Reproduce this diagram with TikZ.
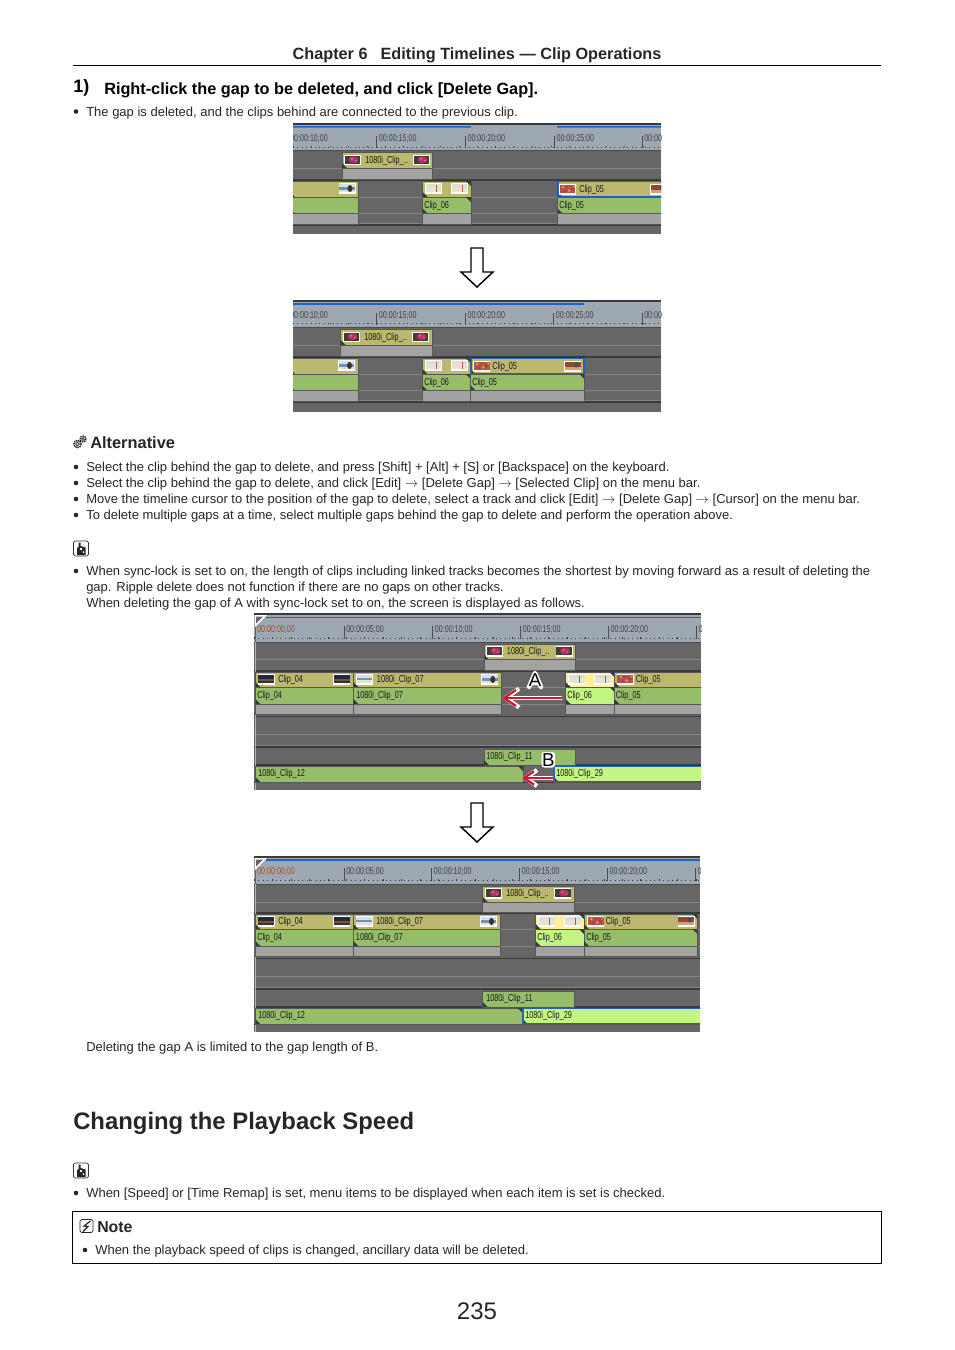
\documentclass[tikz,border=0pt]{standalone}
\usepackage{fontspec}
\setmainfont{Liberation Sans}
\newfontfamily\tlfont[FakeStretch=0.72]{Liberation Sans}
\usetikzlibrary{arrows.meta}
\definecolor{tldark}{HTML}{666666}
\definecolor{tlband}{HTML}{3A3A3A}
\definecolor{tlruler}{HTML}{9DA8B2}
\definecolor{tlline}{HTML}{858585}
\definecolor{tlgrey}{HTML}{A3A3A3}
\definecolor{tlyellow}{HTML}{BDB870}
\definecolor{tlgreen}{HTML}{96BE6A}
\definecolor{tllime}{HTML}{C4F583}
\definecolor{tlpale}{HTML}{FFF099}
\definecolor{tlblue}{HTML}{1F63C0}
\definecolor{tlred}{HTML}{D01830}
\definecolor{tltime}{HTML}{B5471E}
\definecolor{thmoss}{HTML}{3B4034}
\definecolor{thpink}{HTML}{B8305C}
\definecolor{thsky}{HTML}{D5DFE6}
\definecolor{thwater}{HTML}{6F93B4}
\definecolor{thsand}{HTML}{E8E2D0}
\definecolor{thrust}{HTML}{B5553F}
\definecolor{thspot}{HTML}{D8A070}
\definecolor{thdeep}{HTML}{8C4A32}
\definecolor{thnight}{HTML}{1F2A3A}
\definecolor{thglow}{HTML}{7A5232}

% one strip of a clip, with its dark corner
\newcommand{\strip}[5]{%
  \filldraw[#1,draw=tldark!85!black,line width=.4pt] (#2,#4) rectangle (#3,#5);
  \fill[tlband] (#2,#5) -- ++(0,-5) -- ++(5,5) -- cycle;}
\newcommand{\notch}[2]{\fill[tlband] (#1,#2) -- ++(-5,0) -- ++(5,5) -- cycle;}
\newcommand{\greybar}[4]{\filldraw[tlgrey,draw=tldark!85!black,line width=.4pt] (#1,#3) rectangle (#2,#4);}
% x0, x1, top, bottom of ruler, bottom
\newcommand{\tlbase}[5]{%
  \clip (#1,#3) rectangle (#2,#5);
  \fill[tldark] (#1,#3) rectangle (#2,#5);
  \fill[tlruler] (#1,#3+2) rectangle (#2,#4);
  \fill[tlband] (#1,#3) rectangle (#2,#3+1.6);
  \draw[tlband,line width=.6pt,dash pattern=on .7pt off 2.6pt] (#1,#4-3.5) -- (#2,#4-3.5);
  \draw[tlband,line width=.9pt,dash pattern=on .8pt off 13pt] (#1,#4-4) -- (#2,#4-4);
  \draw[tlband!60!tldark,line width=.7pt] (#1,#4) -- (#2,#4);}
\newcommand{\thframe}[1]{\fill[white] (0,0) rectangle (17,10.5); \fill[#1] (0.7,.8) rectangle (16.3,9);}
\newcommand{\thflower}[2]{\begin{scope}[shift={(#1,#2)}]\thframe{thmoss}
  \fill[thpink] (9.5,5) ellipse (5 and 3.5); \fill[thpink!70!white] (8,4) circle (1.3) (12,6) circle (1); \end{scope}}
\newcommand{\thsea}[2]{\begin{scope}[shift={(#1,#2)}]\thframe{thsky}
  \fill[thwater] (.7,3.5) rectangle (16.3,6); \fill[thsand] (.7,6) rectangle (16.3,9); \end{scope}}
\newcommand{\thwoman}[2]{\begin{scope}[shift={(#1,#2)}]\thframe{thsky}
  \fill[thwater] (.7,4) rectangle (16.3,7); \fill[thsand] (.7,7) rectangle (16.3,9);
  \fill[black!80] (11.5,5.5) ellipse (2.5 and 3.5); \end{scope}}
\newcommand{\thbeach}[2]{\begin{scope}[shift={(#1,#2)}]\thframe{thsand}
  \fill[thsky] (.7,.8) rectangle (16.3,3.5); \fill[thrust] (11,2) rectangle (12,8.5); \end{scope}}
\newcommand{\thflame}[2]{\begin{scope}[shift={(#1,#2)}]\thframe{thrust}
  \fill[thspot] (4,3) circle (1.4) (10,6.5) circle (1.4) (15,2.5) circle (1);
  \fill[thpink] (13,5) circle (1.5) (6,7) circle (1.3) (8,2.5) circle (1); \end{scope}}
\newcommand{\thbrown}[2]{\begin{scope}[shift={(#1,#2)}]\thframe{thdeep}
  \fill[thspot] (.7,5.5) rectangle (16.3,9); \fill[black!70] (12,4) ellipse (2 and 2.5); \end{scope}}
\newcommand{\thdusk}[2]{\begin{scope}[shift={(#1,#2)}]\thframe{thnight}
  \fill[thglow] (.7,5) rectangle (16.3,6.8); \fill[black!80] (.7,6.8) rectangle (16.3,9); \end{scope}}
% hollow arrow between the two timelines of a pair
\newcommand{\bigdown}[2]{\draw[black,line width=1.1pt,line join=miter,fill=white]
  (#1-6,#2) -- (#1+6,#2) -- (#1+6,#2+24) -- (#1+16,#2+24) -- (#1,#2+39) -- (#1-16,#2+24) -- (#1-6,#2+24) -- cycle;}
\newcommand{\handicon}[2]{\begin{scope}[shift={(#1,#2)}]
  \draw[black!80,line width=.6pt,rounded corners=1.2pt] (0,0) rectangle (15,15);
  \fill[black!85] (3.5,14) -- (3.5,7) -- (5,6) -- (5,1.5) -- (7,1.5) -- (7,5) -- (12,6.5) -- (12,14) -- cycle;
  \fill[white] (7.5,8) circle (1.4) (10,11) circle (1);\end{scope}}

\begin{document}
\begin{tikzpicture}[x=.75pt,y=-.75pt,
  bodytext/.style={anchor=base west,inner sep=0pt,font=\fontsize{9.75}{11}\selectfont,text=black!85},
  headtext/.style={anchor=base west,inner sep=0pt,font=\fontsize{12.2}{14}\selectfont\bfseries},
  tltext/.style={anchor=west,inner sep=0pt,font=\tlfont\fontsize{7.6}{8}\selectfont,text=black!90},
  rulertext/.style={anchor=west,inner sep=0pt,font=\tlfont\fontsize{7.4}{8}\selectfont,text=black!75},
  rowline/.style={tlline,line width=.6pt},
  darkline/.style={tlband,line width=.9pt},
  bigtick/.style={black!70,line width=.5pt},
  bulletdot/.style={black!85},
  redshaft/.style={tlred,line width=.9pt,-{Straight Barb[length=9pt,width=12pt,line width=1.7pt]}},
  whiteshaft/.style={white,line width=3pt,-{Straight Barb[length=10pt,width=14pt,line width=3.2pt]}},
  redshort/.style={tlred,line width=.9pt,-{Straight Barb[length=7.5pt,width=10pt,line width=1.7pt]}},
  whiteshort/.style={white,line width=3pt,-{Straight Barb[length=8.5pt,width=12pt,line width=3.2pt]}},
  gearring/.style={black!85,line width=1.1pt}]
  \useasboundingbox (0,0) rectangle (954,1350);

  % page head
  \node[anchor=base,inner sep=0pt,font=\fontsize{12.2}{14}\selectfont\bfseries,text=black!85] (chapter) at (477,59) {Chapter 6\hspace{.8em}Editing Timelines — Clip Operations};
  \coordinate (ruleL) at (73,65);
  \coordinate (ruleR) at (881,65);
  \draw[black,line width=.5pt] (ruleL) -- (ruleR);
  \node[headtext,font=\fontsize{13.5}{15}\selectfont\bfseries] (stepno) at (73,92) {1)};
  \node[headtext] (steptext) at (104,94.5) {Right-click the gap to be deleted, and click [Delete Gap].};
  \fill[bulletdot] (76,111.5) circle (2.3);
  \node[bodytext] (result) at (86,116.5) {The gap is deleted, and the clips behind are connected to the previous clip.};

  % first timeline, before
  \begin{scope}
    \tlbase{293}{661}{123}{150.5}{234}
    \fill[tlblue] (293,126) rectangle (471,127.6) (557,126) rectangle (661,127.6);
    \draw[rowline] (293,168) -- (661,168) (293,197) -- (661,197) (293,213.5) -- (661,213.5) (293,223.5) -- (661,223.5);
    \draw[darkline] (293,180) -- (661,180) (293,225) -- (661,225);
    \foreach \tx/\tl [count=\i] in {288/00:00:10;00,376.7/00:00:15;00,465.3/00:00:20;00,554.3/00:00:25;00,642/00:00:30;00}{
      \draw[bigtick] (\tx,136) -- (\tx,148);
      \node[rulertext] (ra\i) at (\tx+2,138.5) {\tl};}
    \strip{tlyellow}{342}{432.7}{152.3}{168}
    \greybar{342}{432.7}{168}{179.5}
    \thflower{344}{154.7} \thflower{413}{154.7}
    \node[tltext] (a1) at (365,160.5) {1080i\_Clip\_..};
    \strip{tlyellow}{290}{358.3}{181}{197}
    \strip{tlgreen}{290}{358.3}{197}{213.5}
    \greybar{290}{358.3}{213.5}{224}
    \thwoman{338.5}{183}
    \strip{tlyellow}{422.7}{471}{181}{197} \notch{471}{181}
    \strip{tlgreen}{422.7}{471}{197}{213.5} \notch{471}{197}
    \greybar{422.7}{471}{213.5}{224}
    \thbeach{425}{183} \thbeach{451}{183}
    \node[tltext] (a2) at (424,205.5) {Clip\_06};
    \strip{tlyellow}{557.7}{670}{181}{197}
    \strip{tlgreen}{557.7}{670}{197}{213.5}
    \greybar{557.7}{670}{213.5}{224}
    \draw[tlblue,line width=1pt] (557.9,181.5) rectangle (672,196.5);
    \thflame{559}{184} \thbrown{650}{184}
    \node[tltext] (a3) at (579,189.5) {Clip\_05};
    \node[tltext] (a4) at (559,205.5) {Clip\_05};
  \end{scope}

  \bigdown{477}{248}

  % first timeline, after
  \begin{scope}
    \tlbase{293}{661}{300}{327.3}{412}
    \fill[tlblue] (293,303) rectangle (584.3,304.6);
    \draw[rowline] (293,345) -- (661,345) (293,374) -- (661,374) (293,390.5) -- (661,390.5) (293,400.5) -- (661,400.5);
    \draw[darkline] (293,357) -- (661,357) (293,402) -- (661,402);
    \foreach \tx/\tl [count=\i] in {288/00:00:10;00,376.7/00:00:15;00,465.3/00:00:20;00,553.7/00:00:25;00,642/00:00:30;00}{
      \draw[bigtick] (\tx,313) -- (\tx,325);
      \node[rulertext] (rb\i) at (\tx+2,315.5) {\tl};}
    \strip{tlyellow}{340.7}{432.3}{329.3}{345}
    \greybar{340.7}{432.3}{345}{356.5}
    \thflower{343}{331.7} \thflower{412}{331.7}
    \node[tltext] (b1) at (364,337.5) {1080i\_Clip\_..};
    \strip{tlyellow}{290}{358.3}{358}{374}
    \strip{tlgreen}{290}{358.3}{374}{390.5}
    \greybar{290}{358.3}{390.5}{401}
    \thwoman{338}{360}
    \strip{tlyellow}{422.3}{470.7}{358}{374} \notch{470.7}{358}
    \strip{tlgreen}{422.3}{470.7}{374}{390.5} \notch{470.7}{374}
    \greybar{422.3}{470.7}{390.5}{401}
    \thbeach{425}{360} \thbeach{451}{360}
    \node[tltext] (b2) at (424,382.5) {Clip\_06};
    \strip{tlyellow}{470.7}{584.3}{358}{374}
    \strip{tlgreen}{470.7}{584.3}{374}{390.5} \notch{584.3}{374}
    \greybar{470.7}{584.3}{390.5}{401}
    \draw[tlblue,line width=1pt] (471,358.5) rectangle (584,373.5);
    \thflame{473.3}{361} \thbrown{564.3}{361}
    \node[tltext] (b3) at (492,366.5) {Clip\_05};
    \node[tltext] (b4) at (472,382.5) {Clip\_05};
  \end{scope}

  % alternative
  \draw[gearring,dash pattern=on 1pt off .6pt] (77.5,444) circle (3.6) (83,439) circle (2.9);
  \draw[black!85,line width=.5pt] (77.5,444) circle (1.8) (83,439) circle (1.3);
  \node[headtext,font=\fontsize{12.3}{14}\selectfont\bfseries,text=black!85] (alt) at (90,448) {Alternative};
  \foreach \yb in {467,483,499,515} \fill[bulletdot] (76,\yb) circle (2.3);
  \node[bodytext] (alt1) at (86,471) {Select the clip behind the gap to delete, and press [Shift] + [Alt] + [S] or [Backspace] on the keyboard.};
  \node[bodytext] (alt2) at (86,487) {Select the clip behind the gap to delete, and click [Edit] $\rightarrow$ [Delete Gap] $\rightarrow$ [Selected Clip] on the menu bar.};
  \node[bodytext] (alt3) at (86,503) {Move the timeline cursor to the position of the gap to delete, select a track and click [Edit] $\rightarrow$ [Delete Gap] $\rightarrow$ [Cursor] on the menu bar.};
  \node[bodytext] (alt4) at (86,519) {To delete multiple gaps at a time, select multiple gaps behind the gap to delete and perform the operation above.};

  \handicon{73.5}{541}
  \fill[bulletdot] (76,571) circle (2.3);
  \node[bodytext] (sync1) at (86,575) {When sync-lock is set to on, the length of clips including linked tracks becomes the shortest by moving forward as a result of deleting the};
  \node[bodytext] (sync2) at (86,591) {gap. Ripple delete does not function if there are no gaps on other tracks.};
  \node[bodytext] (sync3) at (86,607) {When deleting the gap of A with sync-lock set to on, the screen is displayed as follows.};

  % second timeline, before
  \begin{scope}
    \tlbase{254}{701}{613}{642}{790}
    \fill[tlblue] (266,616.6) rectangle (701,618);
    \fill[white] (255,615) -- (267,615) -- (255,627) -- cycle;
    \fill[tldark] (256,616.5) -- (263,616.5) -- (256,623.5) -- cycle;
    \draw[rowline] (254,659.5) -- (701,659.5) (254,687) -- (701,687) (254,704) -- (701,704) (254,734) -- (701,734) (254,745) -- (701,745);
    \draw[darkline] (254,671) -- (701,671) (254,716.7) -- (701,716.7) (254,747) -- (701,747) (254,765) -- (701,765) (254,782.5) -- (701,782.5);
    \draw[cyan!60!white,line width=.6pt] (255.5,642) -- (255.5,790);
    \draw[tltime,line width=.6pt] (255.7,627) -- (255.7,642);
    \node[rulertext,text=tltime] (rc0) at (257,629.5) {00:00:00;00};
    \foreach \tx/\tl [count=\i] in {344/00:00:05;00,432.7/00:00:10;00,520.7/00:00:15;00,608.3/00:00:20;00,696.7/00:00:25;00}{
      \draw[bigtick] (\tx,626) -- (\tx,639);
      \node[rulertext] (rc\i) at (\tx+2,629.5) {\tl};}
    \strip{tlyellow}{484}{575}{644}{659.5}
    \greybar{484}{575}{659.5}{670.5}
    \thflower{486}{646} \thflower{555.7}{646}
    \node[tltext] (c1) at (506.7,651.5) {1080i\_Clip\_..};
    \strip{tlyellow}{255.5}{353.3}{672}{687}
    \strip{tlgreen}{255.5}{353.3}{687}{704}
    \greybar{255.5}{353.3}{704}{714.5}
    \thdusk{257.7}{674} \thdusk{333.3}{674}
    \node[tltext] (c2) at (278,679.5) {Clip\_04};
    \node[tltext] (c3) at (257,695.5) {Clip\_04};
    \strip{tlyellow}{353.3}{501}{672}{687}
    \strip{tlgreen}{353.3}{501}{687}{704}
    \greybar{353.3}{501}{704}{714.5}
    \thsea{356}{674} \thwoman{481.3}{674}
    \node[tltext] (c4) at (376.7,679.5) {1080i\_Clip\_07};
    \node[tltext] (c5) at (356,695.5) {1080i\_Clip\_07};
    \strip{tlpale}{565.7}{614.3}{672}{687} \notch{614.3}{672}
    \strip{tllime}{565.7}{614.3}{687}{704} \notch{614.3}{687}
    \greybar{565.7}{614.3}{704}{714.5}
    \thbeach{568.3}{674} \thbeach{594.3}{674}
    \node[tltext] (c6) at (567,695.5) {Clip\_06};
    \strip{tlyellow}{614.3}{710}{672}{687}
    \strip{tlgreen}{614.3}{710}{687}{704}
    \greybar{614.3}{710}{704}{714.5}
    \thflame{616.7}{674}
    \node[tltext] (c7) at (635.7,679.5) {Clip\_05};
    \node[tltext] (c8) at (615.7,695.5) {Clip\_05};
    \strip{tlgreen}{484}{575}{749}{765}
    \node[tltext] (c9) at (486,756.5) {1080i\_Clip\_11};
    \strip{tlgreen}{255.5}{523}{766}{782} \notch{523}{766}
    \node[tltext] (c10) at (258,773.5) {1080i\_Clip\_12};
    \strip{tllime}{554}{710}{766}{782}
    \draw[tlblue,line width=1pt] (554.3,766.5) -- (710,766.5) (554.3,766.5) -- (554.3,781.5) -- (710,781.5);
    \node[tltext] (c11) at (556,773.5) {1080i\_Clip\_29};
    % gap arrows and letters
    \coordinate (gapAr) at (562,698);
    \coordinate (gapAl) at (502,698);
    \coordinate (gapBr) at (553,778);
    \coordinate (gapBl) at (522,778);
    \draw[whiteshaft] (gapAr) -- (gapAl);
    \draw[redshaft] (gapAr) -- (gapAl);
    \draw[whiteshort] (gapBr) -- (gapBl);
    \draw[redshort] (gapBr) -- (gapBl);
    \draw[white,line width=3.4pt,line join=round,line cap=round] (529,687) -- (535,673) -- (541,687) (531,683) -- (539,683);
    \fill[white,rounded corners=2pt] (541.5,752) rectangle (555,767.5);
    \node[anchor=center,inner sep=0pt,font=\fontsize{14}{14}\selectfont] (gapA) at (535,680.5) {A};
    \node[anchor=center,inner sep=0pt,font=\fontsize{14}{14}\selectfont] (gapB) at (548.3,760) {B};
  \end{scope}

  \bigdown{477}{803}

  % second timeline, after
  \begin{scope}
    \tlbase{254}{700}{856}{884}{1032}
    \fill[tlblue] (266,859) rectangle (700,860.5);
    \fill[white] (255,858) -- (267,858) -- (255,870) -- cycle;
    \fill[tldark] (256,859.5) -- (263,859.5) -- (256,866.5) -- cycle;
    \draw[rowline] (254,902) -- (700,902) (254,929) -- (700,929) (254,946) -- (700,946) (254,976) -- (700,976) (254,987) -- (700,987);
    \draw[darkline] (254,913) -- (700,913) (254,958.7) -- (700,958.7) (254,989) -- (700,989) (254,1007) -- (700,1007) (254,1024.5) -- (700,1024.5);
    \draw[cyan!60!white,line width=.6pt] (255.5,884) -- (255.5,1032);
    \draw[tltime,line width=.6pt] (255.7,870) -- (255.7,884);
    \node[rulertext,text=tltime] (rd0) at (257,871.5) {00:00:00;00};
    \foreach \tx/\tl [count=\i] in {344/00:00:05;00,431.7/00:00:10;00,519.7/00:00:15;00,607.3/00:00:20;00,695.3/00:00:25;00}{
      \draw[bigtick] (\tx,868) -- (\tx,881);
      \node[rulertext] (rd\i) at (\tx+2,871.5) {\tl};}
    \strip{tlyellow}{482.7}{574}{886}{902}
    \greybar{482.7}{574}{902}{912}
    \thflower{485}{888} \thflower{554.3}{888}
    \node[tltext] (d1) at (506,893.5) {1080i\_Clip\_..};
    \strip{tlyellow}{255.5}{353.3}{914}{929}
    \strip{tlgreen}{255.5}{353.3}{929}{946}
    \greybar{255.5}{353.3}{946}{956.5}
    \thdusk{257.7}{916} \thdusk{333.3}{916}
    \node[tltext] (d2) at (278,921.5) {Clip\_04};
    \node[tltext] (d3) at (257,937.5) {Clip\_04};
    \strip{tlyellow}{353.3}{500}{914}{929}
    \strip{tlgreen}{353.3}{500}{929}{946}
    \greybar{353.3}{500}{946}{956.5}
    \thsea{355.7}{916} \thwoman{480}{916}
    \node[tltext] (d4) at (376,921.5) {1080i\_Clip\_07};
    \node[tltext] (d5) at (355.7,937.5) {1080i\_Clip\_07};
    \strip{tlpale}{535.7}{584}{914}{929} \notch{584}{914}
    \strip{tllime}{535.7}{584}{929}{946} \notch{584}{929}
    \greybar{535.7}{584}{946}{956.5}
    \thbeach{538.3}{916} \thbeach{564.3}{916}
    \node[tltext] (d6) at (537,937.5) {Clip\_06};
    \strip{tlyellow}{584}{697.3}{914}{929} \notch{697.3}{914}
    \strip{tlgreen}{584}{697.3}{929}{946} \notch{697.3}{929}
    \greybar{584}{697.3}{946}{956.5}
    \thflame{587.3}{916} \thbrown{677.7}{916}
    \node[tltext] (d7) at (605.7,921.5) {Clip\_05};
    \node[tltext] (d8) at (586,937.5) {Clip\_05};
    \strip{tlgreen}{482.7}{574}{991}{1007}
    \node[tltext] (d9) at (486,999) {1080i\_Clip\_11};
    \strip{tlgreen}{255.5}{522.7}{1008}{1024} \notch{522.7}{1008}
    \node[tltext] (d10) at (258,1015.5) {1080i\_Clip\_12};
    \strip{tllime}{522.7}{710}{1008}{1024}
    \draw[tlblue,line width=1pt] (523,1008.5) -- (710,1008.5) (523,1008.5) -- (523,1023.5) -- (710,1023.5);
    \node[tltext] (d11) at (525,1015.5) {1080i\_Clip\_29};
  \end{scope}

  \node[bodytext] (limit) at (86,1051.5) {Deleting the gap A is limited to the gap length of B.};

  % next section
  \node[headtext,font=\fontsize{17.9}{22}\selectfont\bfseries,text=black!85] (section) at (73,1129.5) {Changing the Playback Speed};
  \handicon{73.5}{1163}
  \fill[bulletdot] (76,1193) circle (2.3);
  \node[bodytext] (speed) at (86,1197) {When [Speed] or [Time Remap] is set, menu items to be displayed when each item is set is checked.};

  % note box
  \coordinate (noteNW) at (72.5,1211.5);
  \coordinate (noteSE) at (881,1263.5);
  \draw[black,line width=.6pt] (noteNW) rectangle (noteSE);
  \draw[black!85,line width=.6pt,rounded corners=1.2pt] (80,1219.5) rectangle (93,1232.5);
  \draw[black!85,line width=.9pt,line join=miter] (90.5,1221) -- (84,1226) -- (88,1226.5) -- (83,1231.5);
  \node[headtext,font=\fontsize{11.9}{14}\selectfont\bfseries,text=black!85] (note) at (97,1232) {Note};
  \fill[bulletdot] (85,1250) circle (2.3);
  \node[bodytext] (notetext) at (95,1254) {When the playback speed of clips is changed, ancillary data will be deleted.};

  \node[anchor=base,inner sep=0pt,font=\fontsize{18}{20}\selectfont,text=black!85] (pageno) at (477,1319.5) {235};
\end{tikzpicture}
\end{document}
